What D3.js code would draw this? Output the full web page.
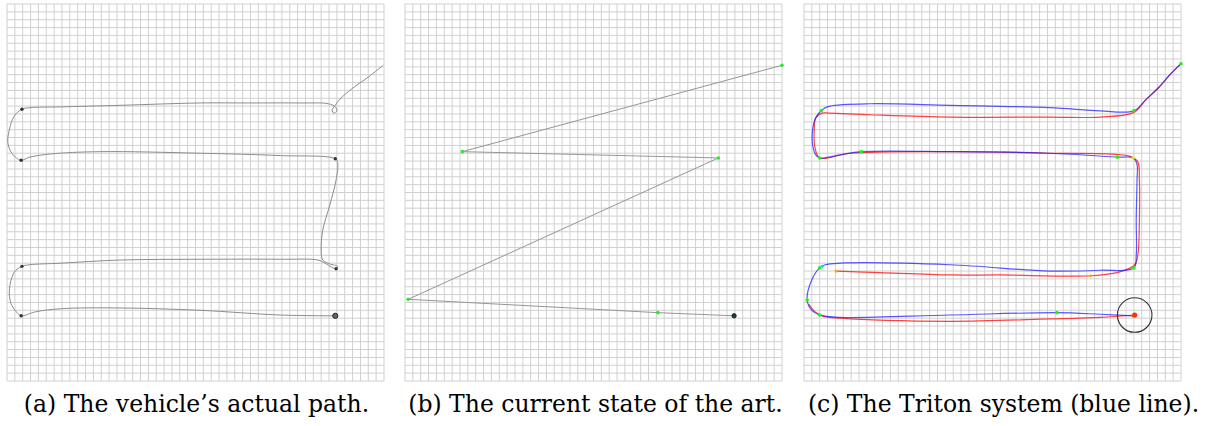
<!DOCTYPE html>
<html>
<head>
<meta charset="utf-8">
<script src="https://cdn.jsdelivr.net/npm/d3@7"></script>
<style>
  html, body { margin: 0; padding: 0; background: #fff; }
  svg { display: block; }
</style>
</head>
<body>
<svg id="chart" width="1208" height="426"></svg>
<script>
// Coordinates are in grid cells (48 x 48 field), y measured upward.

// (a) recorded path of the vehicle
const actualPath = [
  [47.9,40.2],[46.0,38.7],[43.9,37.2],[42.4,35.9],[41.8,35.1],[41.4,34.5],[41.6,34.1],[42.0,34.4],
  [41.8,34.9],[40.9,35.3],[37.3,35.4],[30.9,35.4],[24.6,35.4],[14.4,35.1],[6.8,34.9],[2.9,34.8],
  [1.9,34.6],[0.9,33.7],[0.3,32.0],[0.1,30.4],[0.5,29.2],[1.2,28.4],[1.8,28.1],[2.9,28.5],
  [5.5,28.9],[11.8,29.2],[24.6,29.0],[34.8,28.7],[41.8,28.3],[42.1,27.8],[41.9,25.6],[41.1,22.4],
  [40.2,19.2],[40.0,16.7],[40.2,15.4],[41.1,14.9],[42.1,14.6],[41.9,14.3],[41.5,14.4],[40.5,15.0],
  [39.6,15.4],[34.8,15.5],[24.6,15.5],[14.4,15.4],[6.8,15.0],[2.9,14.8],[1.9,14.6],[0.9,13.8],
  [0.3,11.6],[0.5,9.9],[1.2,8.8],[1.8,8.3],[3.6,8.8],[6.8,9.2],[14.4,9.3],[24.6,9.0],[34.8,8.4],[41.8,8.3]
];
const actualStops = [[1.9,34.6],[1.8,28.1],[41.8,28.3],[41.9,14.3],[1.9,14.6],[1.8,8.3]];
const actualEnd = [41.8,8.3];

// (b) straight-line estimate between sparse fixes
const stateOfArt = [[48.0,40.2],[7.3,29.2],[39.9,28.4],[0.4,10.4],[32.2,8.7],[41.9,8.3]];

// (c) Triton estimate (blue) and reference track (red)
const tritonPath = [
  [48.0,40.4],[46.6,39.0],[45.1,37.3],[43.5,35.8],[42.0,34.4],[37.7,34.4],[31.3,34.8],[18.6,35.1],
  [8.4,35.3],[3.3,35.0],[2.4,34.6],[1.5,33.5],[1.1,32.0],[1.1,30.0],[1.5,28.8],[2.0,28.4],
  [4.6,28.8],[7.3,29.2],[18.6,29.2],[31.3,29.0],[39.9,28.5],[41.9,28.4],[42.4,27.6],[42.4,25.6],
  [42.3,20.5],[42.3,16.0],[42.0,14.4],[37.7,14.1],[31.3,14.0],[18.6,14.8],[4.6,15.0],[2.7,14.8],
  [2.0,14.4],[1.0,12.9],[0.4,10.3],[1.0,9.0],[2.0,8.4],[4.6,8.1],[18.6,8.4],[32.2,8.7],[37.7,8.5],[41.9,8.3]
];
const referenceUpper = [
  [48.0,40.4],[46.6,39.0],[45.1,37.3],[43.5,35.8],[42.0,34.2],[37.7,33.6],[31.3,33.6],[18.6,33.6],
  [8.4,33.9],[3.3,34.1],[2.3,34.1],[1.5,33.5],[1.3,32.0],[1.4,29.7],[2.0,28.4],[5.9,29.0],
  [18.6,29.2],[31.3,29.0],[41.5,28.6],[42.5,27.9],[42.7,25.6],[42.7,20.5],[42.5,16.0],[42.1,14.8],
  [40.2,13.9],[36.5,13.4],[25.0,13.5],[18.6,13.5],[9.7,13.8],[4.1,14.0]
];
const referenceLower = [
  [0.6,9.8],[1.3,8.9],[2.3,8.3],[4.6,8.0],[18.6,7.6],[31.3,7.9],[37.7,8.1],[42.1,8.4]
];
const tritonFixes = [
  [48.0,40.4],[42.0,34.4],[2.2,34.4],[2.0,28.4],[7.3,29.2],[39.9,28.5],[42.0,14.4],
  [2.0,14.4],[0.4,10.3],[2.0,8.4],[32.2,8.7],[41.9,8.3]
];
const tritonHandover = [[41.9,28.4]];
const tritonCyan = [[2.3,14.6]];
const referenceMarks = [[4.1,14.0],[36.5,13.4]];
const targetCentre = [42.1,8.4];
const targetRadius = 2.2;

const captions = [
  "(a) The vehicle\u2019s actual path.",
  "(b) The current state of the art.",
  "(c) The Triton system (blue line)."
];

const svg = d3.select("#chart");
const panelSize = 377, panelTop = 4;
const panelLefts = [7, 405, 804];
const captionShift = [1, 2, 11];
const cells = 48;

function makePanel(i) {
  const g = svg.append("g").attr("transform", `translate(${panelLefts[i]},${panelTop})`);
  const x = d3.scaleLinear().domain([0, cells]).range([0, panelSize]);
  const y = d3.scaleLinear().domain([0, cells]).range([panelSize, 0]);
  const ticks = d3.range(0, cells + 1);
  const grid = g.append("g").attr("stroke", "#d0d0d0").attr("stroke-width", 1).attr("fill", "none");
  grid.selectAll("line.v").data(ticks).join("line").attr("class", "v")
    .attr("x1", d => x(d)).attr("x2", d => x(d)).attr("y1", 0).attr("y2", panelSize);
  grid.selectAll("line.h").data(ticks).join("line").attr("class", "h")
    .attr("y1", d => y(d)).attr("y2", d => y(d)).attr("x1", 0).attr("x2", panelSize);
  g.append("text")
    .attr("x", panelSize / 2 + captionShift[i]).attr("y", 408)
    .attr("text-anchor", "middle")
    .attr("font-family", "'DejaVu Serif', serif")
    .attr("font-size", 23.5)
    .attr("fill", "#000")
    .text(captions[i]);
  return {g, x, y};
}

function dots(p, data, r, fill) {
  p.g.append("g").selectAll("circle").data(data).join("circle")
    .attr("cx", d => p.x(d[0])).attr("cy", d => p.y(d[1]))
    .attr("r", r).attr("fill", fill);
}

// (a)
{
  const p = makePanel(0);
  const line = d3.line().x(d => p.x(d[0])).y(d => p.y(d[1])).curve(d3.curveCatmullRom.alpha(0.5));
  p.g.append("path").attr("d", line(actualPath))
    .attr("fill", "none").attr("stroke", "#8c8c8c").attr("stroke-width", 1);
  dots(p, actualStops, 1.7, "#333");
  p.g.append("circle").attr("cx", p.x(actualEnd[0])).attr("cy", p.y(actualEnd[1]))
    .attr("r", 2.6).attr("fill", "#666").attr("stroke", "#222").attr("stroke-width", 1);
}

// (b)
{
  const p = makePanel(1);
  const line = d3.line().x(d => p.x(d[0])).y(d => p.y(d[1]));
  p.g.append("path").attr("d", line(stateOfArt))
    .attr("fill", "none").attr("stroke", "#969696").attr("stroke-width", 1);
  dots(p, stateOfArt.slice(0, -1), 1.8, "#22ee22");
  const last = stateOfArt[stateOfArt.length - 1];
  p.g.append("circle").attr("cx", p.x(last[0])).attr("cy", p.y(last[1]))
    .attr("r", 2.2).attr("fill", "#224422").attr("stroke", "#111").attr("stroke-width", 0.8);
}

// (c)
{
  const p = makePanel(2);
  const line = d3.line().x(d => p.x(d[0])).y(d => p.y(d[1])).curve(d3.curveCatmullRom.alpha(0.5));
  [referenceUpper, referenceLower].forEach(seg => {
    p.g.append("path").attr("d", line(seg))
      .attr("fill", "none").attr("stroke", "#ff2020").attr("stroke-opacity", 0.85).attr("stroke-width", 1.2);
  });
  p.g.append("path").attr("d", line(tritonPath))
    .attr("fill", "none").attr("stroke", "#2020ff").attr("stroke-opacity", 0.75).attr("stroke-width", 1.2);
  dots(p, tritonFixes, 1.8, "#22ee22");
  dots(p, tritonHandover, 1.8, "#ccee22");
  dots(p, tritonCyan, 1.6, "#22dddd");
  dots(p, referenceMarks, 1.6, "#ffaa00");
  p.g.append("circle").attr("cx", p.x(targetCentre[0])).attr("cy", p.y(targetCentre[1]))
    .attr("r", 2.6).attr("fill", "#ff3010");
  p.g.append("circle").attr("cx", p.x(targetCentre[0])).attr("cy", p.y(targetCentre[1]))
    .attr("r", p.x(targetRadius) - p.x(0))
    .attr("fill", "none").attr("stroke", "#333").attr("stroke-width", 1.1);
}
</script>
</body>
</html>
